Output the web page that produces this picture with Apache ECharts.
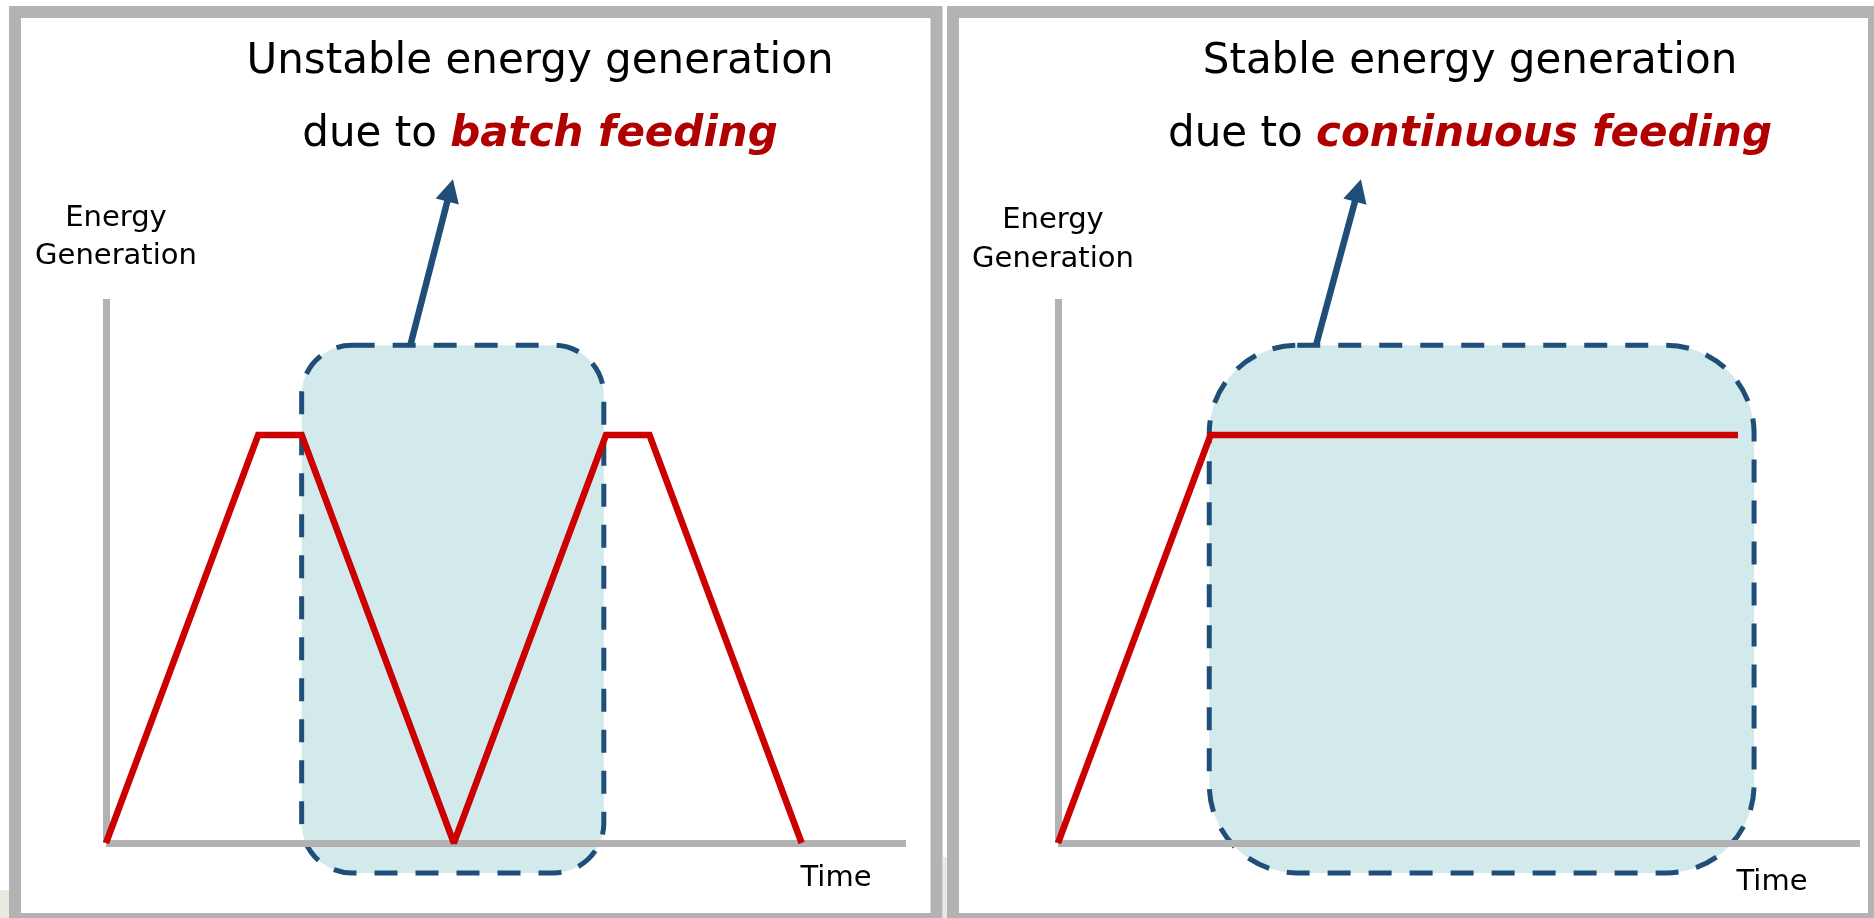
<!DOCTYPE html>
<html><head><meta charset="utf-8">
<script src="https://cdn.jsdelivr.net/npm/echarts@6/dist/echarts.min.js"></script>
<style>html,body{margin:0;padding:0;background:#fff}#c{width:1874px;height:918px}</style>
</head><body><div id="c"></div>
<script>
// ---- data ----
const batchTime = [0, 3.5, 4.5, 8, 11.5, 12.5, 16];
const batchEnergy = [0, 3, 3, 0, 3, 3, 0];
const contTime = [0, 3.5, 15.6];
const contEnergy = [0, 3, 3];
const batchBox = [4.5, 11.45, -0.22, 3.66];   // time from, time to, energy from, energy to
const contBox = [3.47, 15.97, -0.22, 3.66];
const batchArrow = [7.0, 3.66, 7.98, 4.88];    // from (time, energy) to (time, energy)
const contArrow = [5.92, 3.66, 6.95, 4.88];
const timeMax = 18.4, energyMax = 4;
const leftTitle = ['Unstable energy generation', 'due to ', 'batch feeding'];
const rightTitle = ['Stable energy generation', 'due to ', 'continuous feeding'];
const yName = ['Energy', 'Generation'];
const xName = 'Time';

// ---- styles ----
const RED = '#cc0000', BLUE = '#1f4e79', GRAY = '#b2b2b2', FILL = '#d3eaec', TRED = '#b00000';
const FONT = '"DejaVu Sans", Verdana, sans-serif';

function boxRender(radius) {
  return function (params, api) {
    const p0 = api.coord([api.value(0), api.value(3)]);
    const p1 = api.coord([api.value(1), api.value(2)]);
    return {
      type: 'rect',
      shape: { x: p0[0], y: p0[1], width: p1[0] - p0[0], height: p1[1] - p0[1], r: radius },
      style: { fill: FILL, stroke: BLUE, lineWidth: 5, lineDash: [23, 18] }
    };
  };
}
function arrowRender(params, api) {
  const a = api.coord([api.value(0), api.value(1)]);
  const b = api.coord([api.value(2), api.value(3)]);
  const dx = b[0] - a[0], dy = b[1] - a[1], L = Math.hypot(dx, dy), ux = dx / L, uy = dy / L;
  const hl = 23, hw = 12;
  const bx = b[0] - ux * hl, by = b[1] - uy * hl;
  return {
    type: 'group',
    children: [
      { type: 'line', shape: { x1: a[0], y1: a[1], x2: bx + ux * 3, y2: by + uy * 3 }, style: { stroke: BLUE, lineWidth: 6.5 } },
      { type: 'polygon', shape: { points: [[b[0], b[1]], [bx - uy * hw, by + ux * hw], [bx + uy * hw, by - ux * hw]] }, style: { fill: BLUE } }
    ]
  };
}
function zip(a, b) { return a.map((v, i) => [v, b[i]]); }
function axisCommon(max, idx) {
  return {
    type: 'value', min: 0, max: max, gridIndex: idx,
    axisLine: { show: true, lineStyle: { color: GRAY, width: 7, cap: 'butt' } },
    axisTick: { show: false }, axisLabel: { show: false }, splitLine: { show: false }
  };
}
function txt(x, y, text, size, extra) {
  return Object.assign({
    type: 'text', x: x, y: y, z: 50,
    style: { text: text, font: size + 'px ' + FONT, fill: '#000', align: 'center', verticalAlign: 'middle' }
  }, extra || {});
}
function richLine(x, y, plain, red) {
  return {
    type: 'text', x: x, y: y, z: 50,
    style: {
      text: plain + '{r|' + red + '}', font: '42px ' + FONT, fill: '#000', align: 'center', verticalAlign: 'middle',
      rich: { r: { fontFamily: 'DejaVu Sans', fontSize: 42, fontWeight: 'bold', fontStyle: 'italic', fill: TRED } }
    }
  };
}

const chart = echarts.init(document.getElementById('c'), null, { renderer: 'canvas' });
chart.setOption({
  backgroundColor: '#fff',
  animation: false,
  grid: [
    { left: 106, top: 299, width: 800, height: 544 },
    { left: 1058, top: 299, width: 802, height: 544 }
  ],
  xAxis: [axisCommon(timeMax, 0), axisCommon(timeMax, 1)],
  yAxis: [axisCommon(energyMax, 0), axisCommon(energyMax, 1)],
  series: [
    { type: 'custom', xAxisIndex: 0, yAxisIndex: 0, z: -1, renderItem: boxRender(50), data: [batchBox], silent: true },
    { type: 'custom', xAxisIndex: 1, yAxisIndex: 1, z: -1, renderItem: boxRender(88), data: [contBox], silent: true },
    { type: 'custom', xAxisIndex: 0, yAxisIndex: 0, z: 1, renderItem: arrowRender, data: [batchArrow], silent: true },
    { type: 'custom', xAxisIndex: 1, yAxisIndex: 1, z: 1, renderItem: arrowRender, data: [contArrow], silent: true },
    { type: 'line', xAxisIndex: 0, yAxisIndex: 0, z: 5, data: zip(batchTime, batchEnergy), symbol: 'none', clip: false,
      lineStyle: { color: RED, width: 6.5, join: 'miter', miterLimit: 2 } },
    { type: 'line', xAxisIndex: 1, yAxisIndex: 1, z: 5, data: zip(contTime, contEnergy), symbol: 'none', clip: false,
      lineStyle: { color: RED, width: 6.5, join: 'miter', miterLimit: 2 } }
  ],
  graphic: [
    { type: 'rect', shape: { x: 0, y: 890, width: 9, height: 28 }, style: { fill: '#e9e9df' }, z: -10 },
    { type: 'rect', shape: { x: 943, y: 857, width: 4, height: 61 }, style: { fill: '#e9e9df' }, z: -10 },
    { type: 'rect', shape: { x: 15, y: 12, width: 921.5, height: 907 }, style: { fill: null, stroke: '#b3b3b3', lineWidth: 12 }, z: 40 },
    { type: 'rect', shape: { x: 953, y: 12, width: 921, height: 907 }, style: { fill: null, stroke: '#b3b3b3', lineWidth: 12 }, z: 40 },
    txt(540, 62, leftTitle[0], 42),
    richLine(540, 135, leftTitle[1], leftTitle[2]),
    txt(1470, 62, rightTitle[0], 42),
    richLine(1470, 135, rightTitle[1], rightTitle[2]),
    txt(116, 218, yName[0], 29),
    txt(116, 256, yName[1], 29),
    txt(1053, 220, yName[0], 29),
    txt(1053, 259, yName[1], 29),
    txt(836, 878, xName, 29),
    txt(1772, 882, xName, 29)
  ]
});
</script></body></html>
